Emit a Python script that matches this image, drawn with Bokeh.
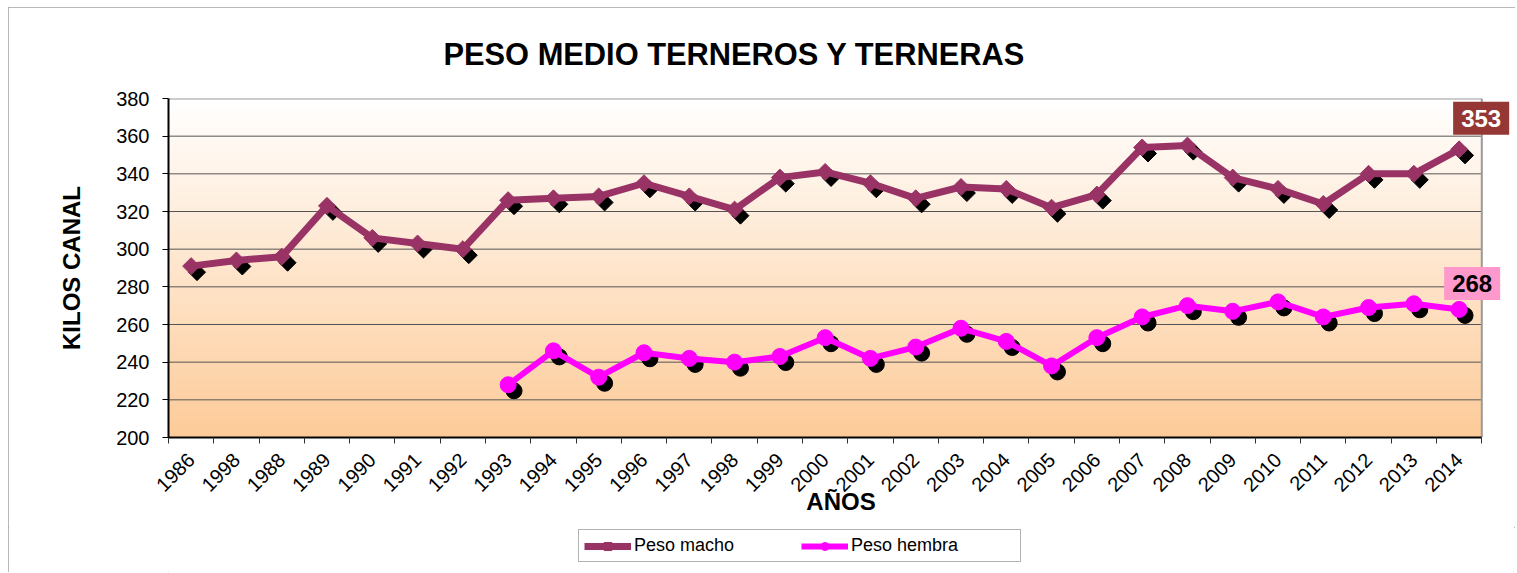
import numpy as np
from bokeh.plotting import figure
from bokeh.layouts import column
from bokeh.models import Range1d, FixedTicker, Label, Legend, LegendItem, ColumnDataSource
from bokeh.transform import dodge
from bokeh.embed import file_html
from bokeh.resources import INLINE

years = ["1986", "1998", "1988", "1989", "1990", "1991", "1992", "1993", "1994", "1995",
         "1996", "1997", "1998", "1999", "2000", "2001", "2002", "2003", "2004", "2005",
         "2006", "2007", "2008", "2009", "2010", "2011", "2012", "2013", "2014"]
peso_macho = [291, 294, 296, 323, 306, 303, 300, 326, 327, 328,
              335, 328, 321, 338, 341, 335, 327, 333, 332, 322,
              329, 354, 355, 338, 332, 324, 340, 340, 353]
nan = float("nan")
peso_hembra = [nan, nan, nan, nan, nan, nan, nan, 228, 246, 232,
               245, 242, 240, 243, 253, 242, 248, 258, 251, 238,
               253, 264, 270, 267, 272, 264, 269, 271, 268]
y_ticks = [200, 220, 240, 260, 280, 300, 320, 340, 360, 380]
series_names = ["Peso macho", "Peso hembra"]

FONT = "Liberation Sans"
MACHO_C = "#993366"
HEMBRA_C = "#FF00FF"

n = len(years)
y0, y1 = y_ticks[0], y_ticks[-1]
xs = [i + 0.5 for i in range(n)]
src = ColumnDataSource(dict(x=xs, m=peso_macho, h=peso_hembra))

# x range extends a little past the last category so the value labels fit
p = figure(width=1507, height=520, output_backend="svg", toolbar_location=None,
           x_range=Range1d(0, n + 0.7), y_range=Range1d(y0, y1))
p.min_border_left = 160
p.min_border_right = 2
p.min_border_top = 91
p.min_border_bottom = 90
p.background_fill_color = "white"
p.border_fill_color = "white"
p.outline_line_color = None

# gradient background of the plot area
steps = 256
t = np.linspace(0.0, 1.0, steps)[:, None]
bottom = np.array([253, 203, 153], dtype=float)
top = np.array([255, 255, 255], dtype=float)
rgb = bottom + (top - bottom) * t
img = np.zeros((steps, 1, 4), dtype=np.uint8)
img[:, 0, :3] = np.round(rgb).astype(np.uint8)
img[:, 0, 3] = 255
img32 = img.view(dtype=np.uint32).reshape((steps, 1))
p.image_rgba(image=[img32], x=0, y=y0, dw=n, dh=y1 - y0, level="image")

# grid lines and plot-area border limited to the category span
p.xgrid.grid_line_color = None
p.ygrid.grid_line_color = None
p.segment(x0=[0] * (len(y_ticks) - 1), x1=[n] * (len(y_ticks) - 1),
          y0=y_ticks[:-1], y1=y_ticks[:-1], line_color="#555555", line_width=1,
          level="underlay")
p.segment(x0=[0, n], x1=[n, n], y0=[y1, y0], y1=[y1, y1], line_color="#9a9a9a",
          line_width=2, level="underlay")

# title
p.title.text = "PESO MEDIO TERNEROS Y TERNERAS"
p.title.text_font = FONT
p.title.text_font_size = "30.8px"
p.title.text_font_style = "bold"
p.title.text_color = "black"
p.title.align = "left"
p.title.offset = 275
p.title.standoff = 53

# y axis
p.yaxis.ticker = FixedTicker(ticks=y_ticks)
p.yaxis.axis_label = "KILOS CANAL"
p.yaxis.axis_label_text_font = FONT
p.yaxis.axis_label_text_font_size = "24px"
p.yaxis.axis_label_text_font_style = "bold"
p.yaxis.axis_label_text_color = "black"
p.yaxis.axis_label_standoff = 28
p.yaxis.major_label_text_font = FONT
p.yaxis.major_label_text_font_size = "20px"
p.yaxis.major_label_text_color = "black"
p.yaxis.major_label_standoff = 13
p.yaxis.major_tick_out = 6
p.yaxis.major_tick_in = 0
p.yaxis.major_tick_line_color = "black"
p.yaxis.minor_tick_line_color = None
p.yaxis.axis_line_color = "black"
p.yaxis.axis_line_width = 2

# x axis
p.xaxis.bounds = (0, n)
p.xaxis.ticker = FixedTicker(ticks=xs, minor_ticks=list(range(n + 1)))
p.xaxis.major_label_overrides = {x: y for x, y in zip(xs, years)}
p.xaxis.major_label_orientation = np.pi / 4
p.xaxis.major_label_text_font = FONT
p.xaxis.major_label_text_font_size = "20px"
p.xaxis.major_label_text_color = "black"
p.xaxis.major_label_standoff = 13
p.xaxis.major_tick_out = 6
p.xaxis.major_tick_in = 0
p.xaxis.major_tick_line_color = None
p.xaxis.minor_tick_out = 6
p.xaxis.minor_tick_in = 0
p.xaxis.minor_tick_line_color = "#333333"
p.xaxis.axis_line_color = "black"
p.xaxis.axis_line_width = 2
p.xaxis.axis_label = "AÑOS"
p.xaxis.axis_label_text_font = FONT
p.xaxis.axis_label_text_font_size = "24px"
p.xaxis.axis_label_text_font_style = "bold"
p.xaxis.axis_label_text_color = "black"
p.xaxis.axis_label_standoff = -13

# shadows
p.scatter(x=dodge("x", 0.13), y=dodge("m", -3.2), source=src, marker="square",
          angle=np.pi / 4, size=12, color="black")
p.scatter(x=dodge("x", 0.13), y=dodge("h", -3.2), source=src, marker="circle",
          size=16, color="black")

# series
p.line("x", "m", source=src, line_color=MACHO_C, line_width=7, line_join="round")
p.scatter("x", "m", source=src, marker="square", angle=np.pi / 4, size=12, color=MACHO_C)
p.line("x", "h", source=src, line_color=HEMBRA_C, line_width=6, line_join="round")
p.scatter("x", "h", source=src, marker="circle", size=16, color=HEMBRA_C)

# value labels
p.add_layout(Label(x=xs[-1], y=peso_macho[-1], text=str(peso_macho[-1]), x_offset=22, y_offset=31,
                   text_align="center", text_baseline="middle", text_font=FONT,
                   text_font_size="24px", text_font_style="bold", text_color="white",
                   background_fill_color="#953735", padding=8))
p.add_layout(Label(x=xs[-1], y=peso_hembra[-1], text=str(peso_hembra[-1]), x_offset=13, y_offset=26,
                   text_align="center", text_baseline="middle", text_font=FONT,
                   text_font_size="24px", text_font_style="bold", text_color="black",
                   background_fill_color="#FF99CC", padding=8))

# legend strip below the chart (same series styles, no data of its own)
q = figure(width=1507, height=45, output_backend="svg", toolbar_location=None,
           x_range=Range1d(0, 1), y_range=Range1d(0, 1),
           x_axis_location=None, y_axis_location=None)
q.min_border_left = 0
q.min_border_right = 0
q.min_border_top = 0
q.min_border_bottom = 0
q.outline_line_color = None
q.background_fill_color = "white"
q.border_fill_color = "white"
q.xgrid.grid_line_color = None
q.ygrid.grid_line_color = None
empty = ColumnDataSource(dict(x=[nan], y=[nan]))
qlm = q.line("x", "y", source=empty, line_color=MACHO_C, line_width=7)
qsm = q.scatter("x", "y", source=empty, marker="square", angle=np.pi / 4, size=12, color=MACHO_C)
qlh = q.line("x", "y", source=empty, line_color=HEMBRA_C, line_width=6)
qsh = q.scatter("x", "y", source=empty, marker="circle", size=16, color=HEMBRA_C)

legend = Legend(items=[LegendItem(label=series_names[0], renderers=[qlm, qsm]),
                       LegendItem(label=series_names[1], renderers=[qlh, qsh])],
                orientation="horizontal", location=(410, 10))
legend.margin = 0
legend.label_text_font = FONT
legend.label_text_font_size = "18px"
legend.label_text_color = "black"
legend.glyph_width = 47
legend.glyph_height = 20
legend.label_height = 20
legend.label_width = 164
legend.label_standoff = 3
legend.spacing = 3
legend.padding = 5
legend.border_line_color = "#666666"
legend.border_line_width = 1
legend.background_fill_color = "white"
legend.background_fill_alpha = 1.0
q.add_layout(legend, "center")

layout = column(p, q, spacing=0,
                styles={"margin-left": "8px", "margin-top": "7px",
                        "outline": "1px solid #a0a0a0", "outline-offset": "-1px"})

open("out.html", "w").write(file_html(layout, INLINE))
